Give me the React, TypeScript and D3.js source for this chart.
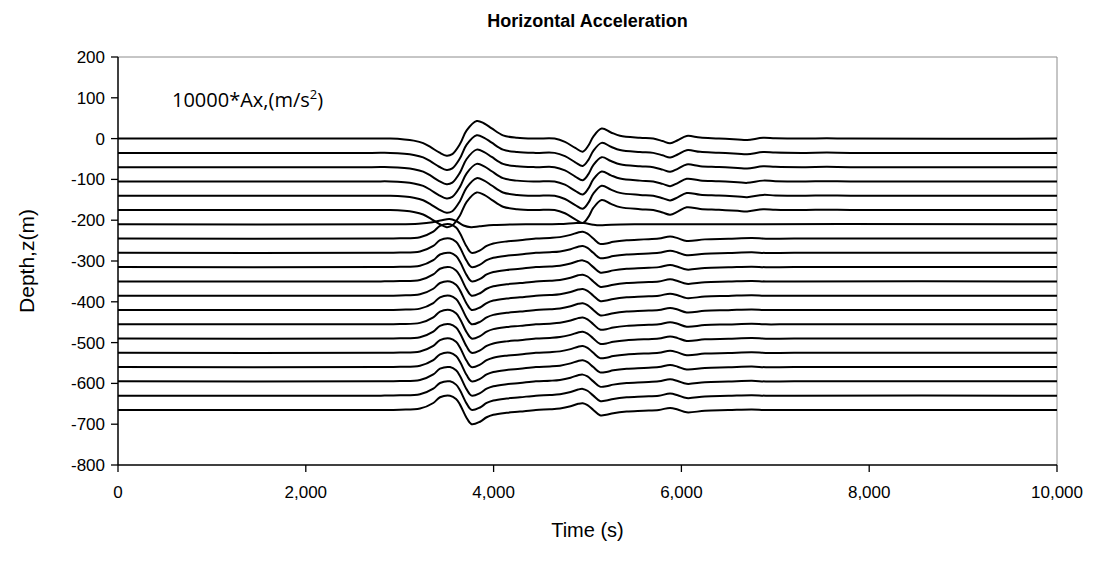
import React from "react";
import * as d3 from "d3";

// Depth (m) of each recording station / trace baseline
const traceDepths = [0, -35, -70, -105, -140, -175, -210, -245, -280, -315, -350, -385, -420, -455, -490, -525, -560, -595, -630, -665];
// Which waveform each trace follows
const traceWave = ["up", "up", "up", "up", "up", "up", "mid", "down", "down", "down", "down", "down", "down", "down", "down", "down", "down", "down", "down", "down"];

// Waveform above the interface (10000*Ax, plotted in depth units)
const upTimes = [0, 2700, 2900, 3050, 3150, 3250, 3330, 3420, 3500, 3560, 3640, 3713, 3820, 3900, 3980, 4100, 4250, 4450, 4650, 4760, 4870, 4950, 5010, 5062, 5151, 5250, 5346, 5559, 5700, 5800, 5880, 5960, 6056, 6200, 6400, 6600, 6700, 6870, 7000, 7300, 7550, 7800, 10000];
const upAcc = [0, 0, 0, -2, -5, -11, -21, -34, -42, -38, -14, 20, 43, 37, 25, 8, 2, 0, 0, -8, -23, -32, -17, 5, 24.5, 15, 7, 2, 0, -6, -11.5, -4, 6.6, 2.5, 0.5, -2, -3.5, 2, 0.7, 0, 0.7, 0, 0];

// Waveform at the interface
const midTimes = [0, 3000, 3200, 3350, 3450, 3530, 3600, 3680, 3760, 3850, 4000, 4200, 4400, 4700, 4880, 4960, 5060, 5130, 5250, 5500, 10000];
const midAcc = [0, 0, 1.5, 5, 10, 13, 8, -3, -7, -5, -2, -0.5, 0, 0.5, 3, 3, -1, -2.5, -1, 0, 0];

// Waveform below the interface
const downTimes = [0, 2800, 3003, 3216, 3358, 3429, 3536, 3600, 3642, 3713, 3766, 3855, 3926, 3997, 4139, 4281, 4450, 4600, 4707, 4820, 4900, 4950, 5000, 5062, 5133, 5200, 5275, 5417, 5600, 5760, 5880, 5960, 6056, 6250, 6500, 6750, 6900, 7200, 10000];
const downAcc = [0, 0, 0.7, 3.3, 17, 31, 35, 27, 13, -19.6, -35, -29, -18, -12, -7, -4, 0, 1.5, 3.5, 9, 15, 16.5, 12, 0, -13, -12, -8, -4, -2, 0, 5, 1, -6, -2, -0.5, 1.2, -0.3, 0, 0];

const xTicks = [0, 2000, 4000, 6000, 8000, 10000];
const yTicks = [200, 100, 0, -100, -200, -300, -400, -500, -600, -700, -800];

const W = 1104;
const H = 564;
const left = 118;
const right = 1057;
const top = 57;
const bottom = 465;

export default function App() {
  const x = d3.scaleLinear().domain([0, 10000]).range([left, right]);
  const y = d3.scaleLinear().domain([-800, 200]).range([bottom, top]);
  const line = d3
    .line<[number, number]>()
    .x((d) => x(d[0]))
    .y((d) => y(d[1]))
    .curve(d3.curveCatmullRom.alpha(0.5));

  const waves: Record<string, [number[], number[]]> = {
    up: [upTimes, upAcc],
    mid: [midTimes, midAcc],
    down: [downTimes, downAcc],
  };

  const fmtX = d3.format(",");
  const arial = "'Liberation Sans', Arial, sans-serif";

  return (
    <svg
      width={W}
      height={H}
      style={{ position: "absolute", left: 0, top: 0, display: "block", background: "#fff" }}
    >
      <rect x={0} y={0} width={W} height={H} fill="#fff" />
      {/* plot border (top / right) */}
      <line x1={left} x2={right} y1={top} y2={top} stroke="#8c8c8c" strokeWidth={1} />
      <line x1={right} x2={right} y1={top} y2={bottom} stroke="#8c8c8c" strokeWidth={1} />

      {/* traces */}
      <g fill="none" stroke="#000" strokeWidth={2}>
        {traceDepths.map((z, i) => {
          const [ts, as] = waves[traceWave[i]];
          const pts: [number, number][] = ts.map((t, k) => [t, z + as[k]]);
          return <path key={i} d={line(pts) || ""} />;
        })}
      </g>

      {/* axes */}
      <line x1={left} x2={left} y1={top} y2={bottom} stroke="#000" strokeWidth={1.5} />
      <line x1={left} x2={right} y1={bottom} y2={bottom} stroke="#000" strokeWidth={1.5} />
      {yTicks.map((v) => (
        <g key={"y" + v}>
          <line x1={left - 7} x2={left} y1={y(v)} y2={y(v)} stroke="#000" strokeWidth={1.3} />
          <text
            x={left - 13}
            y={y(v)}
            dy="0.35em"
            textAnchor="end"
            fontFamily={arial}
            fontSize={17}
            fill="#000"
          >
            {String(v)}
          </text>
        </g>
      ))}
      {xTicks.map((v) => (
        <g key={"x" + v}>
          <line x1={x(v)} x2={x(v)} y1={bottom} y2={bottom + 7} stroke="#000" strokeWidth={1.3} />
          <text
            x={x(v)}
            y={498}
            textAnchor="middle"
            fontFamily={arial}
            fontSize={17}
            fill="#000"
          >
            {fmtX(v)}
          </text>
        </g>
      ))}

      {/* titles */}
      <text
        x={(left + right) / 2}
        y={27}
        textAnchor="middle"
        fontFamily={arial}
        fontWeight="bold"
        fontSize={18}
        fill="#000"
      >
        Horizontal Acceleration
      </text>
      <text
        x={(left + right) / 2}
        y={537}
        textAnchor="middle"
        fontFamily={arial}
        fontSize={20}
        fill="#000"
      >
        Time (s)
      </text>
      <text
        transform={`translate(34,${(top + bottom) / 2}) rotate(-90)`}
        textAnchor="middle"
        fontFamily={arial}
        fontSize={21}
        fill="#000"
      >
        Depth,z(m)
      </text>
      <text x={172} y={107} fontFamily="'Open Sans', Carlito, Calibri, sans-serif" fontSize={20} fill="#000">
        10000*Ax,(m/s
        <tspan dy={-8} fontSize={13}>2</tspan>
        <tspan dy={8}>)</tspan>
      </text>
    </svg>
  );
}
